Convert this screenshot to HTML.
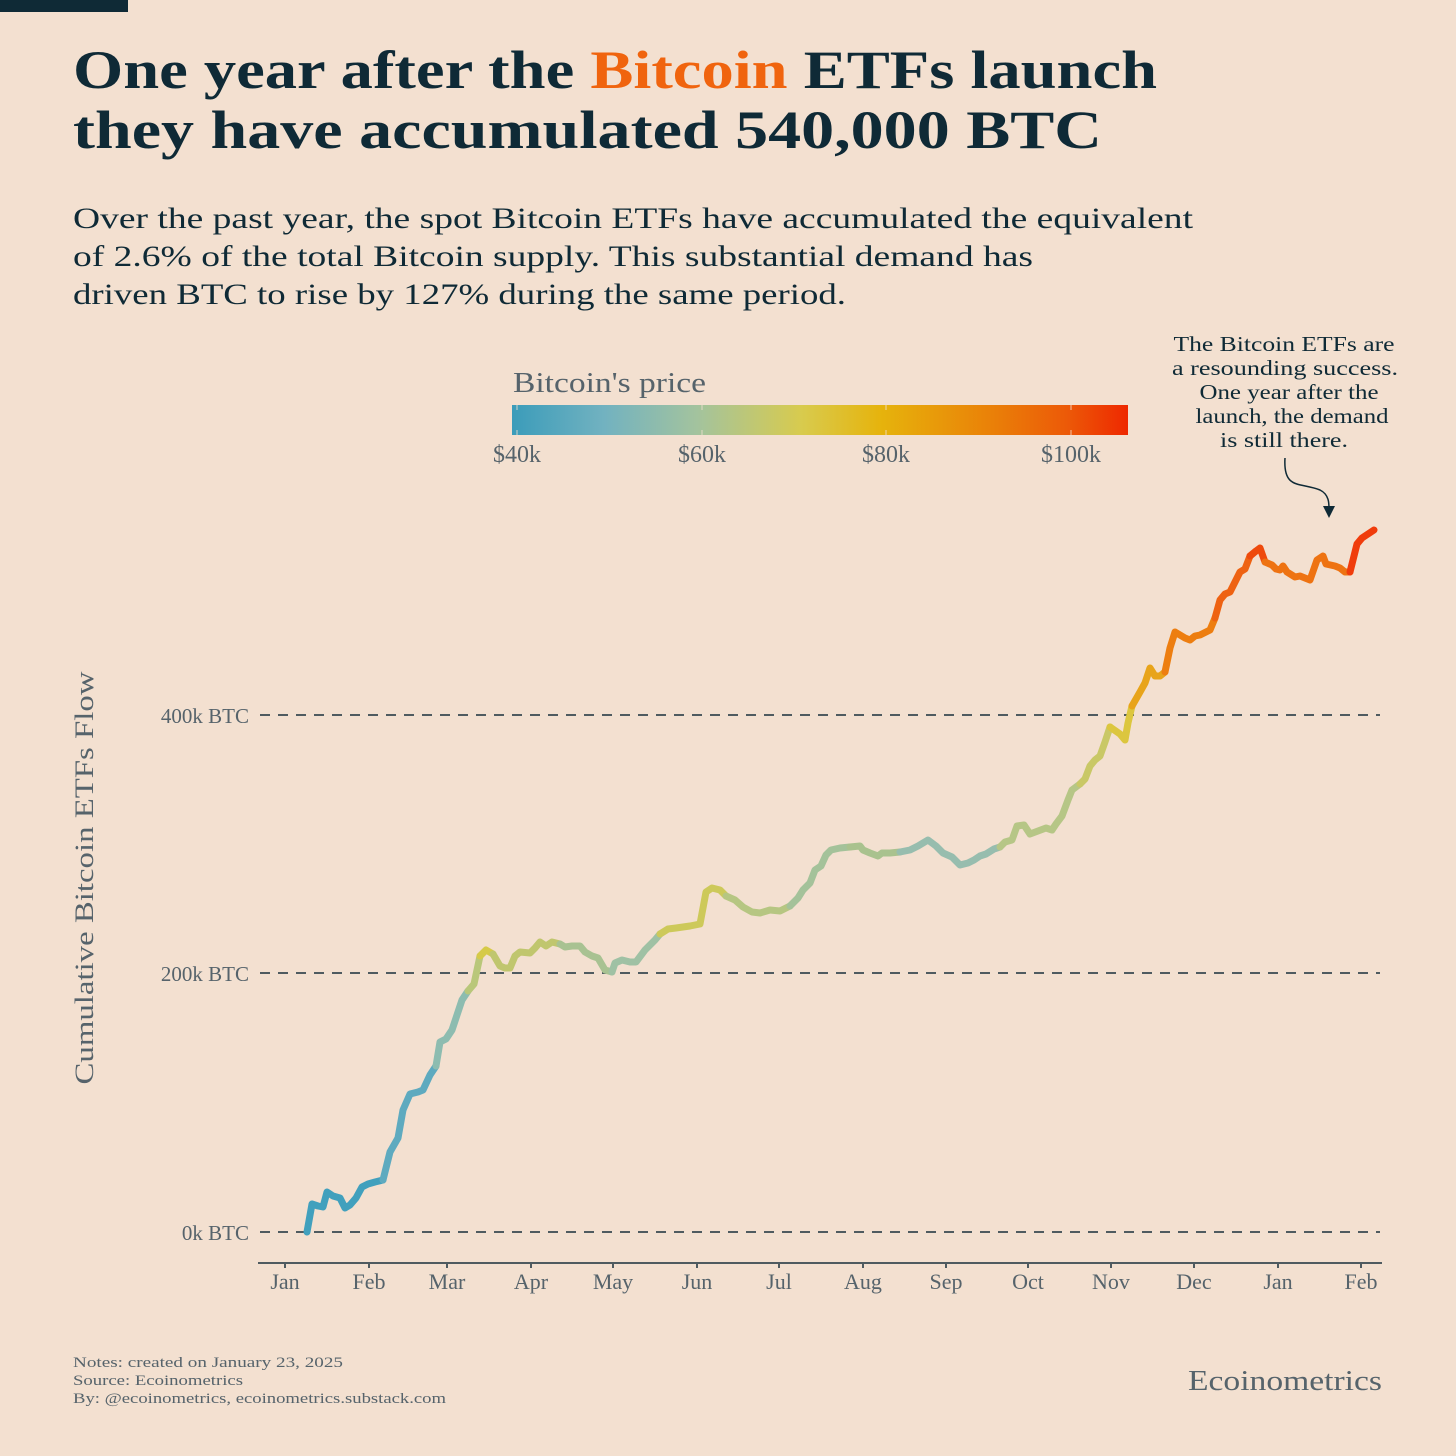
<!DOCTYPE html>
<html><head><meta charset="utf-8"><style>
html,body{margin:0;padding:0;background:#f3e0d0;}
svg{display:block;}
</style></head><body>
<svg width="1456" height="1456" viewBox="0 0 1456 1456" xmlns="http://www.w3.org/2000/svg">
<defs>
<linearGradient id="cb" x1="0" x2="1" y1="0" y2="0">
<stop offset="0" stop-color="#3b9cba"/>
<stop offset="0.15" stop-color="#72b2c0"/>
<stop offset="0.3" stop-color="#a3c39e"/>
<stop offset="0.47" stop-color="#d8cb4e"/>
<stop offset="0.6" stop-color="#e6b30c"/>
<stop offset="0.78" stop-color="#ea8008"/>
<stop offset="0.9" stop-color="#ec5a08"/>
<stop offset="1" stop-color="#ee2800"/>
</linearGradient>
</defs>
<rect width="1456" height="1456" fill="#f3e0d0"/>
<rect x="0" y="0" width="128" height="12" fill="#0f2a36"/>
<g font-family="Liberation Serif, serif" fill="#0f2a36" lengthAdjust="spacingAndGlyphs">
<text x="73" y="88" font-size="54" font-weight="bold" textLength="1084" lengthAdjust="spacingAndGlyphs">One year after the <tspan fill="#f0640e">Bitcoin</tspan> ETFs launch</text>
<text x="73" y="148" font-size="54" font-weight="bold" textLength="1029" lengthAdjust="spacingAndGlyphs">they have accumulated 540,000 BTC</text>
<text x="73" y="228" font-size="30" textLength="1120" lengthAdjust="spacingAndGlyphs">Over the past year, the spot Bitcoin ETFs have accumulated the equivalent</text>
<text x="73" y="266" font-size="30" textLength="960" lengthAdjust="spacingAndGlyphs">of 2.6% of the total Bitcoin supply. This substantial demand has</text>
<text x="73" y="304" font-size="30" textLength="773" lengthAdjust="spacingAndGlyphs">driven BTC to rise by 127% during the same period.</text>
</g>
<g font-family="Liberation Serif, serif" fill="#56636b">
<text x="513" y="392" font-size="28" textLength="193" lengthAdjust="spacingAndGlyphs">Bitcoin's price</text>
<rect x="512" y="405" width="616" height="30" fill="url(#cb)"/>
<g stroke="#f3e0d0" stroke-width="1" opacity="0.8">
<line x1="517" y1="405" x2="517" y2="410"/><line x1="517" y1="430" x2="517" y2="435"/>
<line x1="702" y1="405" x2="702" y2="410"/><line x1="702" y1="430" x2="702" y2="435"/>
<line x1="886" y1="405" x2="886" y2="410"/><line x1="886" y1="430" x2="886" y2="435"/>
<line x1="1071" y1="405" x2="1071" y2="410"/><line x1="1071" y1="430" x2="1071" y2="435"/>
</g>
<g font-size="24" text-anchor="middle">
<text x="517" y="462">$40k</text><text x="702" y="462">$60k</text><text x="886" y="462">$80k</text><text x="1071" y="462">$100k</text>
</g>
<g font-size="21" text-anchor="end">
<text x="249" y="723">400k BTC</text><text x="249" y="981">200k BTC</text><text x="249" y="1240">0k BTC</text>
</g>
<text transform="translate(93,878) rotate(-90)" font-size="26" text-anchor="middle" textLength="413" lengthAdjust="spacingAndGlyphs">Cumulative Bitcoin ETFs Flow</text>
<g font-size="22" text-anchor="middle">
<text x="285" y="1289">Jan</text><text x="369" y="1289">Feb</text><text x="447" y="1289">Mar</text><text x="531" y="1289">Apr</text><text x="613" y="1289">May</text><text x="697" y="1289">Jun</text><text x="779" y="1289">Jul</text><text x="863" y="1289">Aug</text><text x="946" y="1289">Sep</text><text x="1028" y="1289">Oct</text><text x="1111" y="1289">Nov</text><text x="1194" y="1289">Dec</text><text x="1278" y="1289">Jan</text><text x="1361" y="1289">Feb</text>
</g>
<g font-size="15">
<text x="73" y="1367" textLength="270" lengthAdjust="spacingAndGlyphs">Notes: created on January 23, 2025</text>
<text x="73" y="1385" textLength="170" lengthAdjust="spacingAndGlyphs">Source: Ecoinometrics</text>
<text x="73" y="1403" textLength="373" lengthAdjust="spacingAndGlyphs">By: @ecoinometrics, ecoinometrics.substack.com</text>
</g>
<text x="1188" y="1390" font-size="29" textLength="194" lengthAdjust="spacingAndGlyphs">Ecoinometrics</text>
</g>
<g stroke="#4f5b60" stroke-width="2" stroke-dasharray="10,8" fill="none">
<line x1="260" y1="715" x2="1380" y2="715"/><line x1="260" y1="973" x2="1380" y2="973"/><line x1="260" y1="1232" x2="1380" y2="1232"/>
</g>
<g stroke="#4f5b60" stroke-width="2">
<line x1="258" y1="1263" x2="1382" y2="1263"/>
<line x1="285" y1="1263" x2="285" y2="1268"/><line x1="369" y1="1263" x2="369" y2="1268"/><line x1="447" y1="1263" x2="447" y2="1268"/><line x1="531" y1="1263" x2="531" y2="1268"/><line x1="613" y1="1263" x2="613" y2="1268"/><line x1="697" y1="1263" x2="697" y2="1268"/><line x1="779" y1="1263" x2="779" y2="1268"/><line x1="863" y1="1263" x2="863" y2="1268"/><line x1="946" y1="1263" x2="946" y2="1268"/><line x1="1028" y1="1263" x2="1028" y2="1268"/><line x1="1111" y1="1263" x2="1111" y2="1268"/><line x1="1194" y1="1263" x2="1194" y2="1268"/><line x1="1278" y1="1263" x2="1278" y2="1268"/><line x1="1361" y1="1263" x2="1361" y2="1268"/>
</g>
<g fill="none" stroke-width="7" stroke-linejoin="round" stroke-linecap="round">
<polyline stroke="#41a0bd" points="307,1232 312,1204 318,1206 323,1207 327,1192 333,1196 340,1198 345,1208 350,1205 356,1198 362,1187 368,1184 375,1182 383,1180"/>
<polyline stroke="#5eaabf" points="383,1180 390,1152 398,1138 403,1110 410,1094 418,1092 423,1090 430,1075 436,1066"/>
<polyline stroke="#8dbcb0" points="436,1066 440,1042 446,1039 452,1030 456,1018 462,1000 468,991"/>
<polyline stroke="#b9c77a" points="468,991 474,984 480,956"/>
<polyline stroke="#d6ca48" points="480,956 486,950 493,954"/>
<polyline stroke="#c0c66e" points="493,954 500,966 505,968 510,968 515,956 520,952 530,953 535,948 540,942 546,946 552,942 560,944"/>
<polyline stroke="#a8c292" points="560,944 565,947 572,946 580,946 585,952 592,956 598,958 605,970 612,972"/>
<polyline stroke="#9fc1a4" points="612,972 615,963 622,960 630,962 636,962 645,950 650,945 655,940 660,934"/>
<polyline stroke="#cdc95a" points="660,934 668,929 676,928 690,926 700,924 706,892 712,888 720,890 726,896"/>
<polyline stroke="#b6c682" points="726,896 735,900 743,907 752,912 760,913 770,910 780,911 790,906"/>
<polyline stroke="#a4c29a" points="790,906 798,898 803,890 810,883 815,870 821,866 826,855 831,850 840,848 850,847"/>
<polyline stroke="#a9c28e" points="850,847 860,846 863,850 870,853 878,856 882,853 890,853 900,852"/>
<polyline stroke="#97bdae" points="900,852 910,850 918,846 928,840 936,846 943,853 952,857 960,865 968,863 974,860 980,856 986,854 994,849 1000,847"/>
<polyline stroke="#b6c686" points="1000,847 1005,842 1012,840 1017,826 1024,825 1030,834 1038,831 1046,828 1052,830 1056,824 1062,816 1068,800 1072,790 1080,784"/>
<polyline stroke="#c9c866" points="1080,784 1085,779 1090,766 1095,760 1100,756 1105,742 1110,727"/>
<polyline stroke="#dcc63e" points="1110,727 1120,734 1125,740 1128,723 1132,706"/>
<polyline stroke="#e8a41a" points="1132,706 1140,692 1145,683 1150,668 1155,676 1160,676 1165,672"/>
<polyline stroke="#ed7e10" points="1165,672 1170,648 1175,632 1185,638 1190,640 1195,636 1200,635 1210,630 1215,618"/>
<polyline stroke="#ee6212" points="1215,618 1220,600 1225,594 1230,592 1235,582 1240,572 1245,569 1250,556"/>
<polyline stroke="#ee4a0c" points="1250,556 1256,551 1260,548 1265,562"/>
<polyline stroke="#ee7312" points="1265,562 1272,565 1276,569 1280,570 1283,566 1287,572 1295,577 1300,576 1305,578 1310,580 1317,560 1323,556 1326,564 1335,566 1340,568 1345,572 1350,572"/>
<polyline stroke="#f03c0c" points="1350,572 1357,544 1362,538 1368,534 1374,530"/>
</g>
<g font-family="Liberation Serif, serif" fill="#0f2a36" font-size="21" text-anchor="middle">
<text x="1284" y="351" textLength="221" lengthAdjust="spacingAndGlyphs">The Bitcoin ETFs are</text>
<text x="1285" y="375" textLength="226" lengthAdjust="spacingAndGlyphs">a resounding success.</text>
<text x="1289" y="399" textLength="179" lengthAdjust="spacingAndGlyphs">One year after the</text>
<text x="1292" y="423" textLength="193" lengthAdjust="spacingAndGlyphs">launch, the demand</text>
<text x="1284" y="447" textLength="128" lengthAdjust="spacingAndGlyphs">is still there.</text>
</g>
<path d="M1285,458 C1283,490 1300,482 1320,490 C1330,495 1329,505 1329,512" fill="none" stroke="#0f2a36" stroke-width="1.5"/>
<polygon points="1323,506 1335,506 1329,518" fill="#0f2a36"/>
</svg>
</body></html>
